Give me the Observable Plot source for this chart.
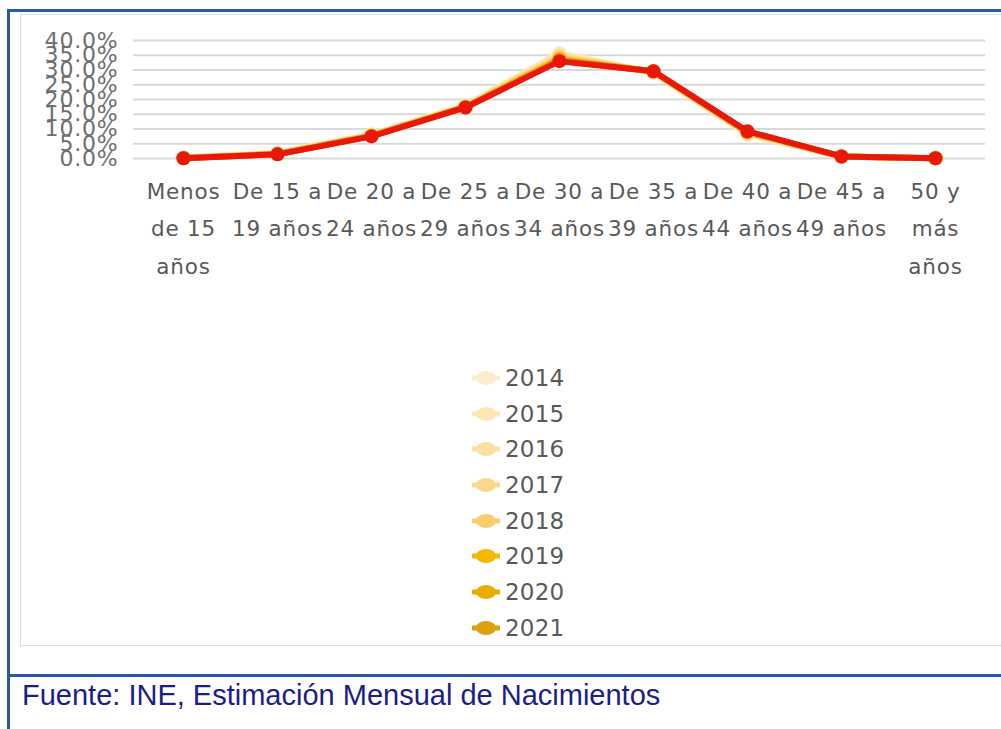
<!DOCTYPE html>
<html>
<head>
<meta charset="utf-8">
<script src="https://cdn.jsdelivr.net/npm/d3@7"></script>
<script src="https://cdn.jsdelivr.net/npm/@observablehq/plot@0.6"></script>
<style>
  html, body { margin: 0; padding: 0; background: #fff; }
  #wrap { position: relative; width: 1001px; height: 729px; overflow: hidden; background: #fff; font-family: "DejaVu Sans", sans-serif; }
  #outer-top { position: absolute; left: 7px; top: 9px; width: 994px; height: 3px; background: #2a5aa2; }
  #outer-left { position: absolute; left: 7px; top: 9px; width: 3px; height: 720px; background: #2a5aa2; }
  #outer-mid { position: absolute; left: 7px; top: 674px; width: 994px; height: 3px; background: #2a5aa2; }
  #panel { position: absolute; left: 20px; top: 14px; width: 990px; height: 632px; border: 1.5px solid #dcdcdc; box-sizing: border-box; }
  #chart { position: absolute; left: 0; top: 0; }
  #legend { position: absolute; left: 470px; top: 360px; }
  .item { position: relative; height: 35.7px; display: flex; align-items: center; font-size: 23px; color: #595959; letter-spacing: 0.2px; }
  .item svg { margin-right: 3px; }
  #caption { position: absolute; left: 22px; top: 679px; font-family: "Liberation Sans", Arial, sans-serif; font-size: 29px; color: #1c1c8a; white-space: nowrap; }
</style>
</head>
<body>
<div id="wrap">
  <div id="panel"></div>
  <div id="outer-top"></div>
  <div id="outer-left"></div>
  <div id="outer-mid"></div>
  <div id="chart"></div>
  <div id="legend"></div>
  <div id="caption">Fuente: INE, Estimación Mensual de Nacimientos</div>
</div>
<script>
// Age groups (categories) and their wrapped tick labels
const categories = ["Menos de 15 años", "De 15 a 19 años", "De 20 a 24 años", "De 25 a 29 años", "De 30 a 34 años", "De 35 a 39 años", "De 40 a 44 años", "De 45 a 49 años", "50 y más años"];
const tickLabels = ["Menos\nde 15\naños", "De 15 a\n19 años", "De 20 a\n24 años", "De 25 a\n29 años", "De 30 a\n34 años", "De 35 a\n39 años", "De 40 a\n44 años", "De 45 a\n49 años", "50 y\nmás\naños"];
const yTicks = [0, 5, 10, 15, 20, 25, 30, 35, 40];

// Legend years and colours
const years = ["2014", "2015", "2016", "2017", "2018", "2019", "2020", "2021"];
const yearColors = ["#fdeccb", "#fde6b4", "#fde0a0", "#fbd88b", "#f9cf6e", "#f5b800", "#e8ad00", "#dda10c"];

// Share of births (%) by age group, per year
const v2014 = [0.3, 1.9, 8.2, 18.0, 35.8, 29.0, 8.0, 0.6, 0.1];
const v2015 = [0.3, 1.8, 8.1, 17.9, 35.5, 29.1, 8.2, 0.6, 0.1];
const v2016 = [0.2, 1.7, 8.0, 17.8, 35.0, 29.2, 8.4, 0.6, 0.1];
const v2017 = [0.2, 1.7, 7.9, 17.7, 34.6, 29.3, 8.6, 0.6, 0.1];
const v2018 = [0.2, 1.6, 7.8, 17.6, 34.2, 29.4, 8.8, 0.7, 0.1];
const v2019 = [0.2, 1.5, 7.7, 17.5, 33.8, 29.5, 8.9, 0.7, 0.1];
const v2020 = [0.1, 1.5, 7.6, 17.4, 33.4, 29.5, 9.0, 0.7, 0.1];
const v2021 = [0.1, 1.4, 7.6, 17.3, 33.2, 29.6, 9.1, 0.7, 0.1];
// Top red series
const vTop   = [0.1, 1.4, 7.5, 17.3, 33.0, 29.6, 9.2, 0.7, 0.1];
const topColor = "#e8190a";

const seriesValues = [v2014, v2015, v2016, v2017, v2018, v2019, v2020, v2021];
const rows = [];
seriesValues.forEach((vals, i) => vals.forEach((v, j) => rows.push({year: years[i], cat: categories[j], value: v})));
const topRows = vTop.map((v, j) => ({cat: categories[j], value: v}));
const labelOf = new Map(categories.map((c, i) => [c, tickLabels[i]]));

const chart = Plot.plot({
  width: 1001,
  height: 300,
  marginLeft: 133,
  marginRight: 16,
  marginTop: 40,
  marginBottom: 142,
  style: {fontFamily: "DejaVu Sans, sans-serif", letterSpacing: "0.8px", background: "transparent", overflow: "visible"},
  x: {type: "point", domain: categories, padding: 0.5},
  y: {domain: [0, 40]},
  color: {domain: years, range: yearColors},
  marks: [
    Plot.gridY(yTicks, {stroke: "#d9d9d9", strokeOpacity: 1, strokeWidth: 2}),
    Plot.axisY(yTicks, {tickSize: 0, tickPadding: 15, fontSize: 22, fill: "#6e6e6e", tickFormat: d => d.toFixed(1) + "%", label: null}),
    Plot.axisX({tickSize: 0, tickPadding: 14, fontSize: 21.5, lineHeight: 1.74, fill: "#595959", tickFormat: d => labelOf.get(d), label: null}),
    Plot.line(rows, {x: "cat", y: "value", z: "year", stroke: "year", strokeWidth: 6}),
    Plot.dot(rows, {x: "cat", y: "value", fill: "year", r: 7}),
    Plot.line(topRows, {x: "cat", y: "value", stroke: topColor, strokeWidth: 6}),
    Plot.dot(topRows, {x: "cat", y: "value", fill: topColor, r: 7})
  ]
});
document.getElementById("chart").appendChild(chart);

// Legend
const legend = document.getElementById("legend");
years.forEach((y, i) => {
  const item = document.createElement("div");
  item.className = "item";
  const ns = "http://www.w3.org/2000/svg";
  const s = document.createElementNS(ns, "svg");
  s.setAttribute("width", 32); s.setAttribute("height", 14);
  const ln = document.createElementNS(ns, "line");
  ln.setAttribute("x1", 2); ln.setAttribute("x2", 30); ln.setAttribute("y1", 7); ln.setAttribute("y2", 7);
  ln.setAttribute("stroke", yearColors[i]); ln.setAttribute("stroke-width", 5);
  const c = document.createElementNS(ns, "ellipse");
  c.setAttribute("cx", 16); c.setAttribute("cy", 7); c.setAttribute("rx", 10); c.setAttribute("ry", 7);
  c.setAttribute("fill", yearColors[i]);
  s.appendChild(ln); s.appendChild(c);
  const t = document.createElement("span");
  t.textContent = y;
  item.appendChild(s); item.appendChild(t);
  legend.appendChild(item);
});
</script>
</body>
</html>
